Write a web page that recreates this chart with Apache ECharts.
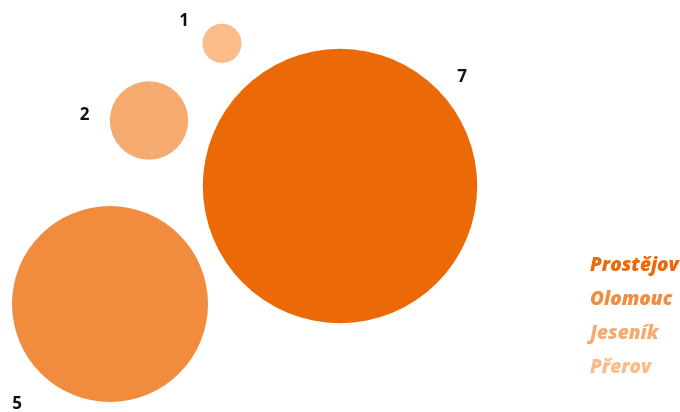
<!DOCTYPE html>
<html><head><meta charset="utf-8">
<script src="https://cdn.jsdelivr.net/npm/echarts@6/dist/echarts.min.js"></script>
<style>html,body{margin:0;padding:0;background:#fff}#c{width:680px;height:412px}</style>
</head><body><div id="c"></div>
<script>
// Data
const names = ['Prostějov', 'Olomouc', 'Jeseník', 'Přerov'];
const values = [7, 5, 2, 1];
// bubble layout positions (packed layout coordinates)
const posX = [340, 110, 149, 222];
const posY = [186, 304, 120.5, 43.3];

// Styles
const colors = ['#EC6907', '#F18C3E', '#F5AB70', '#F9BC8A'];
const labelOffsets = [[122, -109], [-93, 100.5], [-64.5, -5.5], [-38, -22]];
const unitDiameter = 39.2;

const chart = echarts.init(document.getElementById('c'));
const series = names.map((n, i) => ({
  name: n,
  type: 'scatter',
  symbol: 'circle',
  symbolSize: (v) => v[2] * unitDiameter,
  itemStyle: { color: colors[i], opacity: 1 },
  emphasis: { disabled: true },
  label: {
    show: true,
    position: 'inside',
    offset: labelOffsets[i],
    formatter: (p) => String(p.value[2]),
    color: '#111',
    fontFamily: 'Open Sans',
    fontWeight: 'bold',
    fontSize: 17
  },
  data: [[posX[i], posY[i], values[i]]]
}));

chart.setOption({
  animation: false,
  grid: { left: 0, right: 0, top: 0, bottom: 0 },
  xAxis: { type: 'value', min: 0, max: 680, show: false },
  yAxis: { type: 'value', min: 0, max: 412, inverse: true, show: false },
  legend: {
    orient: 'vertical',
    left: 580,
    top: 251,
    icon: 'none',
    itemWidth: 0,
    itemHeight: 20,
    itemGap: 14.5,
    data: names.map((n, i) => ({ name: n, textStyle: { color: colors[i] } })),
    textStyle: { fontFamily: 'Open Sans', fontWeight: 800, fontStyle: 'italic', fontSize: 19 }
  },
  series
});
</script></body></html>
